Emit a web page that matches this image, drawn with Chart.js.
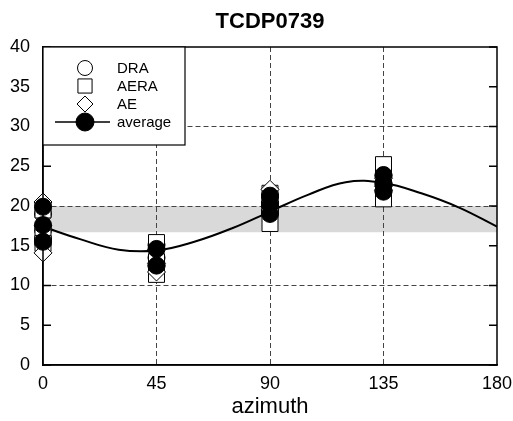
<!DOCTYPE html>
<html>
<head>
<meta charset="utf-8">
<script src="https://cdn.jsdelivr.net/npm/chart.js@4.4.0/dist/chart.umd.min.js"></script>
<style>
  html, body { margin: 0; padding: 0; background: #fff; }
</style>
</head>
<body>
<canvas id="azChart" width="513" height="421"></canvas>
<script>
// ticks
const xTicks = [0, 45, 90, 135, 180]
const xGrid = [45, 90, 135]
const yGrid = [10, 20, 30]

// measurements (azimuth, value) per method
const draAz = [0, 0, 0, 45, 45, 45, 90, 90, 90, 135, 135, 135]
const draVal = [19.0, 17.0, 15.8, 15.1, 13.5, 12.5, 21.2, 20.0, 19.2, 23.8, 22.8, 21.9]

const aeraAz = [0, 0, 0, 45, 45, 45, 90, 90, 90, 135, 135, 135]
const aeraVal = [19.5, 16.0, 15.3, 15.4, 13.0, 11.4, 21.6, 19.8, 17.8, 25.2, 23.0, 20.9]

const aeAz = [0, 0, 0, 45, 45, 45, 90, 90, 90, 135, 135, 135]
const aeVal = [20.5, 17.5, 14.1, 14.5, 12.8, 11.7, 22.1, 20.5, 19.5, 23.5, 22.5, 22.0]

const avgAz = [0, 0, 0, 45, 45, 90, 90, 90, 135, 135, 135]
const avgVal = [19.9, 17.6, 15.5, 14.6, 12.5, 21.3, 20.2, 19.0, 23.9, 22.8, 21.8]

// fitted curve
const fitAz = [0, 15, 30, 45, 60, 75, 90, 105, 120, 135, 150, 165, 180]
const fitVal = [17.4, 15.8, 14.5, 14.4, 15.5, 17.2, 19.3, 21.4, 23.0, 22.9, 21.6, 19.8, 17.4]

// grey band
const bandAz = [0, 180]
const bandLow = 16.7
const bandHigh = 20.0

const legendOrder = ['DRA', 'AERA', 'AE', 'average']

Chart.defaults.font.family = "'Liberation Sans', Arial, sans-serif"
Chart.defaults.color = '#000'

function pts(xs, ys) {
    return xs.map((x, i) => ({x: x, y: ys[i]}))
}

function markerSet(label, xs, ys, style, radius, filled) {
    return {
        label: label,
        data: pts(xs, ys),
        pointStyle: style,
        pointRadius: radius,
        pointHoverRadius: radius,
        pointBorderWidth: 1,
        borderColor: '#000',
        backgroundColor: filled ? '#000' : '#fff',
        showLine: false,
        clip: false
    }
}

function marker(ctx, style, r, x, y, filled) {
    ctx.fillStyle = filled ? '#000' : '#fff'
    ctx.strokeStyle = '#000'
    ctx.lineWidth = 1
    if (Chart.helpers && Chart.helpers.drawPoint) {
        Chart.helpers.drawPoint(ctx, {pointStyle: style, radius: r, rotation: 0, borderWidth: 1}, x, y)
        return
    }
    ctx.beginPath()
    if (style === 'circle') ctx.arc(x, y, r, 0, Math.PI * 2)
    else if (style === 'rect') { const s = r * Math.SQRT1_2; ctx.rect(x - s, y - s, 2 * s, 2 * s) }
    else { ctx.moveTo(x - r, y); ctx.lineTo(x, y - r); ctx.lineTo(x + r, y); ctx.lineTo(x, y + r); ctx.closePath() }
    ctx.fill(); ctx.stroke()
}

// box, inner ticks on left and right
const framePlugin = {
    id: 'frame',
    afterDatasetsDraw(chart) {
        const {ctx, chartArea: a, scales: {y}} = chart
        ctx.save()
        ctx.strokeStyle = '#000'
        ctx.lineWidth = 1.5
        ctx.setLineDash([])
        ctx.beginPath()
        y.ticks.forEach(t => {
            const py = y.getPixelForValue(t.value)
            ctx.moveTo(a.left, py); ctx.lineTo(a.left + 8, py)
            ctx.moveTo(a.right, py); ctx.lineTo(a.right - 8, py)
        })
        ctx.stroke()
        ctx.strokeRect(a.left, a.top, a.right - a.left, a.bottom - a.top)
        ctx.restore()
    }
}

const legendPlugin = {
    id: 'boxLegend',
    afterDraw(chart) {
        const {ctx, chartArea: a} = chart
        const sizes = {DRA: 7.5, AERA: 10, AE: 8, average: 9}
        ctx.save()
        ctx.fillStyle = '#fff'
        ctx.fillRect(a.left, a.top, 142, 98)
        ctx.strokeStyle = '#000'
        ctx.lineWidth = 1.2
        ctx.strokeRect(a.left, a.top, 142, 98)
        ctx.font = "15px 'Liberation Sans', Arial, sans-serif"
        ctx.textBaseline = 'middle'
        legendOrder.forEach((name, i) => {
            const ds = chart.data.datasets.find(d => d.label === name)
            const y = a.top + 21 + i * 18
            const mx = a.left + 42
            const filled = ds.backgroundColor === '#000'
            if (name === 'average') {
                ctx.strokeStyle = '#000'
                ctx.lineWidth = 1.5
                ctx.beginPath()
                ctx.moveTo(a.left + 12, y); ctx.lineTo(a.left + 67, y)
                ctx.stroke()
            }
            marker(ctx, ds.pointStyle, sizes[name], mx, y, filled)
            ctx.fillStyle = '#000'
            ctx.fillText(name, a.left + 74, y + 1)
        })
        ctx.restore()
    }
}

new Chart(document.getElementById('azChart'), {
    type: 'scatter',
    data: {
        datasets: [
            markerSet('average', avgAz, avgVal, 'circle', 8.5, true),
            markerSet('AE', aeAz, aeVal, 'rectRot', 9, false),
            markerSet('AERA', aeraAz, aeraVal, 'rect', 11.3, false),
            markerSet('DRA', draAz, draVal, 'circle', 8.5, false),
            {
                type: 'line',
                label: 'fit',
                data: pts(fitAz, fitVal),
                borderColor: '#000',
                borderWidth: 2,
                pointRadius: 0,
                showLine: true,
                tension: 0.4,
                fill: false
            },
            {
                type: 'line',
                label: 'bandLow',
                data: pts(bandAz, bandAz.map(() => bandLow)),
                borderColor: 'transparent',
                borderWidth: 0,
                pointRadius: 0,
                showLine: true,
                fill: false
            },
            {
                type: 'line',
                label: 'bandHigh',
                data: pts(bandAz, bandAz.map(() => bandHigh)),
                borderColor: 'transparent',
                borderWidth: 0,
                pointRadius: 0,
                showLine: true,
                backgroundColor: '#d9d9d9',
                fill: '-1'
            }
        ]
    },
    options: {
        responsive: false,
        animation: false,
        devicePixelRatio: 1,
        layout: {padding: {left: 0, right: 16, top: 0, bottom: 0}},
        plugins: {
            legend: {display: false},
            tooltip: {enabled: false},
            filler: {drawTime: 'beforeDraw'},
            title: {
                display: true,
                text: 'TCDP0739',
                fullSize: false,
                color: '#000',
                font: {size: 22, weight: 'bold'},
                padding: {top: 8.8, bottom: 11.8}
            }
        },
        scales: {
            x: {
                type: 'linear',
                min: 0,
                max: 180,
                afterBuildTicks: s => { s.ticks = xTicks.map(v => ({value: v})) },
                afterFit: s => { s.height = 56; s.paddingLeft = 0; s.paddingRight = 0 },
                ticks: {font: {size: 18}, color: '#000', padding: 8.5, maxRotation: 0},
                grid: {
                    color: c => (c.tick && xGrid.includes(c.tick.value)) ? '#444' : 'transparent',
                    drawTicks: false,
                    lineWidth: 1
                },
                border: {dash: [5, 3], color: '#000', width: 1.5},
                title: {display: true, text: 'azimuth', color: '#000', font: {size: 22}, padding: {top: 0, bottom: 1}}
            },
            y: {
                min: 0,
                max: 40,
                afterFit: s => { s.width = 43; s.paddingTop = 0; s.paddingBottom = 0 },
                ticks: {stepSize: 5, font: {size: 18}, color: '#000', padding: 13},
                grid: {
                    color: c => (c.tick && yGrid.includes(c.tick.value)) ? '#444' : 'transparent',
                    drawTicks: false,
                    lineWidth: 1
                },
                border: {dash: [5, 3], color: '#000', width: 1.5}
            }
        }
    },
    plugins: [framePlugin, legendPlugin]
})
</script>
</body>
</html>
